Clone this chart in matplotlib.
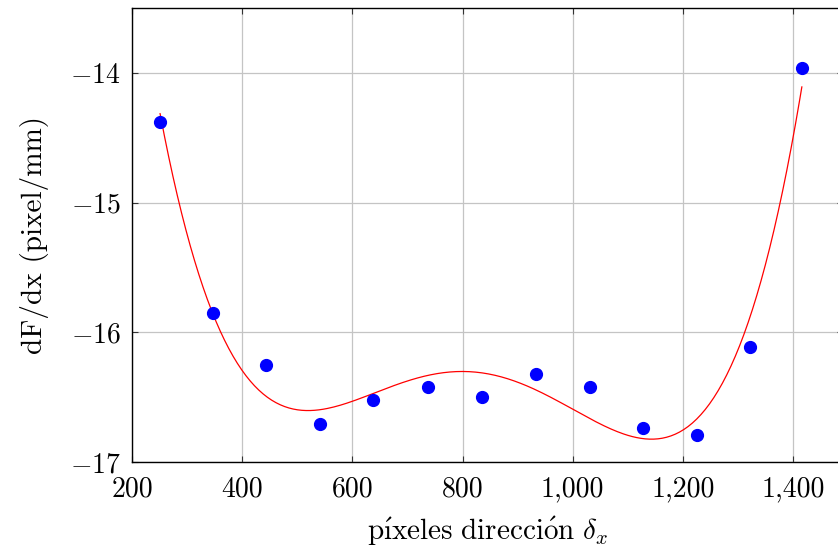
import numpy as np
import matplotlib.pyplot as plt
from matplotlib.ticker import FuncFormatter

plt.rcParams['font.family'] = 'serif'
plt.rcParams['font.serif'] = ['cmr10']
plt.rcParams['mathtext.fontset'] = 'cm'
plt.rcParams['axes.unicode_minus'] = False

# datos medidos
pixeles = [251, 347, 444, 542, 638, 738, 835, 933, 1031, 1127, 1225, 1322, 1416]
dFdx = [-14.38, -15.85, -16.25, -16.71, -16.52, -16.42, -16.50, -16.32,
        -16.42, -16.74, -16.79, -16.11, -13.96]
x_ticks = [200, 400, 600, 800, 1000, 1200, 1400]
y_ticks = [-17, -16, -15, -14]

# ajuste polinomico (linea roja)
coef = np.polyfit(pixeles, dFdx, 4)
xs = np.linspace(min(pixeles), max(pixeles), 300)
ys = np.polyval(coef, xs)

fig = plt.figure(figsize=(8.38, 5.49), dpi=100)
ax = fig.add_axes([0.1575, 0.1585, 0.848, 0.827])

ax.plot(xs, ys, color='red', linewidth=0.9, zorder=2)
ax.plot(pixeles, dFdx, 'o', color='blue', markersize=8.5, zorder=3)

ax.set_xlim(200, 1490)
ax.set_ylim(-17, -13.5)
ax.set_xticks(x_ticks)
ax.set_yticks(y_ticks)
ax.xaxis.set_major_formatter(FuncFormatter(lambda v, p: f'{v:,.0f}'))
ax.yaxis.set_major_formatter(FuncFormatter(lambda v, p: f'${v:.0f}$'))
ax.grid(True, color='#c4c4c4', linewidth=0.9)
ax.set_axisbelow(True)
ax.tick_params(direction='in', length=4, width=0.8, top=True, right=True,
               labelsize=20, color='#333333')
ax.tick_params(axis='x', pad=10)
ax.tick_params(axis='y', pad=8)
for s in ax.spines.values():
    s.set_linewidth(1.0)

# i sin punto de cmr10 (codigo BaKoMa 0xb3) con acento
ax.set_xlabel('$\\mathrm{p\\acute{\u00b3}xeles\\ direcci\\acute{o}n}\\ \\delta_x$',
              fontsize=21, labelpad=9)
ax.set_ylabel('dF/dx (pixel/mm)', fontsize=21, labelpad=15)

fig.savefig('out.png', dpi=100)
